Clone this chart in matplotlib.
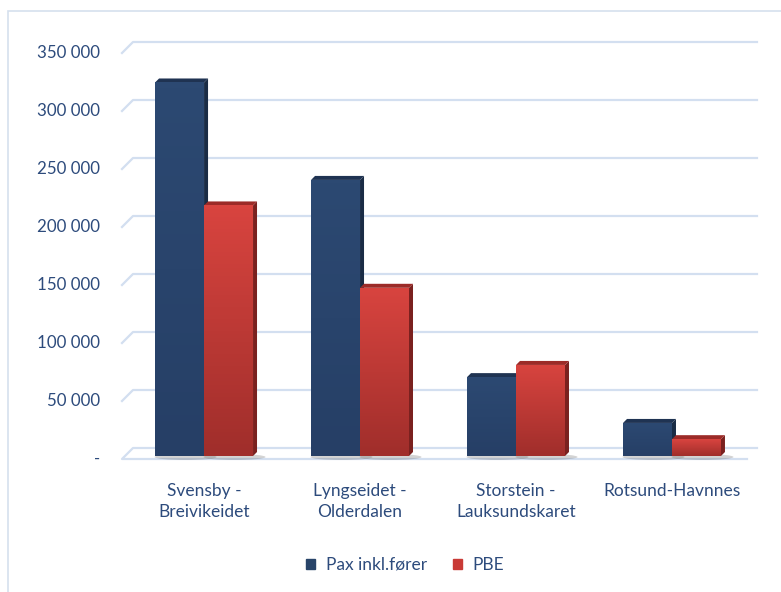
import numpy as np
import matplotlib
matplotlib.use("Agg")
import matplotlib.pyplot as plt
from matplotlib import transforms as mtransforms
from matplotlib.patches import Polygon, Rectangle, Patch, Ellipse
from matplotlib.lines import Line2D
from matplotlib.colors import LinearSegmentedColormap

# data
categories = ["Svensby -\nBreivikeidet", "Lyngseidet -\nOlderdalen",
              "Storstein -\nLauksundskaret", "Rotsund-Havnnes"]
pax = [322000, 238000, 68000, 28500]
pbe = [216000, 145000, 78500, 14500]
series_names = ["Pax inkl.fører", "PBE"]
yticks = [0, 50000, 100000, 150000, 200000, 250000, 300000, 350000]
ytick_labels = ["-", "50 000", "100 000", "150 000", "200 000",
                "250 000", "300 000", "350 000"]

plt.rcParams['font.family'] = ['Lato', 'DejaVu Sans']
text_color = '#2D4B7C'
grid_color = '#D3DFF0'

W, H = 781, 592
fig = plt.figure(figsize=(W / 100, H / 100), dpi=100)
ax = fig.add_axes([122 / W, (H - 456) / H, (757 - 122) / W, 406 / H])
ax.axis('off')
ax.set_xlim(-0.526, 3.545)
ax.set_ylim(0, 350000)

ident = mtransforms.IdentityTransform()
yax = ax.get_yaxis_transform()
xax = ax.get_xaxis_transform()


def to_px(base, x, y, dx=0, dy=0):
    p = base.transform((x, y))
    return (p[0] + dx, p[1] + dy)


# gridlines (back wall with little slant on the left)
for v in yticks:
    if v == 0:
        pts = [to_px(yax, 1, v, -10, -3), to_px(yax, 0, v, 0, -3),
               to_px(yax, 0, v, 11, 8), to_px(yax, 1, v, 0, 8)]
    else:
        pts = [to_px(yax, 0, v, 0, -3), to_px(yax, 0, v, 11, 8),
               to_px(yax, 1, v, 0, 8)]
    xs, ys = zip(*pts)
    ax.add_line(Line2D(xs, ys, transform=ident, color=grid_color, lw=1.6,
                       zorder=1, clip_on=False))

for v, lab in zip(yticks, ytick_labels):
    x, y = to_px(yax, 0, v, -22, -3)
    ax.text(x, y, lab, transform=ident, ha='right', va='center',
            fontsize=12.2, color=text_color)


def draw_bar(x0, x1, h, c_top, c_bot, c_side, c_cap):
    dx, dy = 4, 4
    # soft shadow on floor
    sx, sy = to_px(ax.transData, (x0 + x1) / 2, 0, 6, -1)
    ax.add_patch(Ellipse((sx, sy), 62, 6, transform=ident, color='#555555',
                         alpha=0.25, lw=0, zorder=2, clip_on=False))
    side = [to_px(ax.transData, x1, 0), to_px(ax.transData, x1, h),
            to_px(ax.transData, x1, h, dx, dy), to_px(ax.transData, x1, 0, dx, dy)]
    ax.add_patch(Polygon(side, closed=True, transform=ident, fc=c_side,
                         ec='none', zorder=3, clip_on=False))
    cap = [to_px(ax.transData, x0, h), to_px(ax.transData, x1, h),
           to_px(ax.transData, x1, h, dx, dy), to_px(ax.transData, x0, h, dx, dy)]
    ax.add_patch(Polygon(cap, closed=True, transform=ident, fc=c_cap,
                         ec='none', zorder=3, clip_on=False))
    rect = Rectangle((x0, 0), x1 - x0, h, fc='none', ec='none', zorder=4)
    ax.add_patch(rect)
    cmap = LinearSegmentedColormap.from_list('g', [c_bot, c_top])
    grad = np.linspace(0, 1, 64).reshape(-1, 1)
    im = ax.imshow(grad, extent=[x0, x1, 0, h], origin='lower', aspect='auto',
                   cmap=cmap, zorder=4)
    im.set_clip_path(rect)


w = 0.314
for i in range(len(categories)):
    draw_bar(i - w, i, pax[i], '#2C4972', '#263F66', '#1A2C45', '#1F3352')
    draw_bar(i, i + w, pbe[i], '#D8443F', '#A02E2B', '#7A211F', '#9C2B28')

ax.set_xlim(-0.526, 3.545)
ax.set_ylim(0, 350000)

for i, cat in enumerate(categories):
    x, y = to_px(xax, i, 0, 0, -27)
    ax.text(x, y, cat, transform=ident, ha='center', va='top',
            fontsize=12.5, color=text_color, linespacing=1.4)

handles = [Patch(color='#284469'), Patch(color='#C93A36')]
fig.legend(handles, series_names, loc='center',
           bbox_to_anchor=(405 / W, 1 - 565 / H), ncol=2, frameon=False,
           handlelength=0.55, handleheight=0.55, handletextpad=0.6,
           columnspacing=1.5, fontsize=12.5, labelcolor=text_color)

fig.patches.append(Rectangle((8 / W, -0.1), 1.2, 1.1 - 11 / H,
                             transform=fig.transFigure, fill=False,
                             ec='#D5E0EE', lw=1.2))

fig.savefig("out.png", dpi=100)
